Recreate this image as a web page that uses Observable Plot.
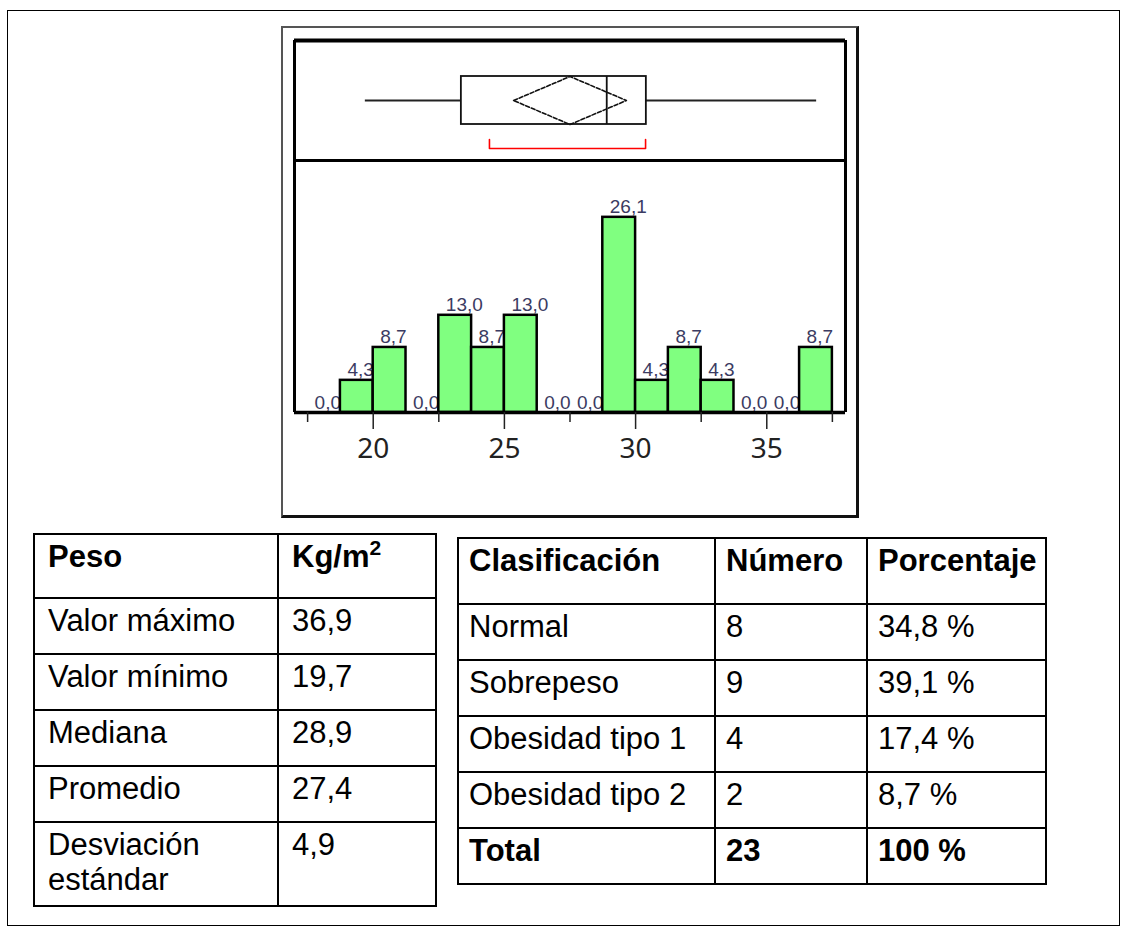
<!DOCTYPE html>
<html><head><meta charset="utf-8">
<script src="https://cdn.jsdelivr.net/npm/d3@7"></script>
<script src="https://cdn.jsdelivr.net/npm/@observablehq/plot@0.6"></script>
<style>
html,body{margin:0;padding:0;background:#fff;}
body{width:1127px;height:933px;position:relative;overflow:hidden;font-family:"Liberation Sans",Arial,sans-serif;}
#page{position:absolute;left:7px;top:10px;width:1113px;height:916px;border:1.5px solid #000;box-sizing:border-box;}
#frame{position:absolute;left:281px;top:26px;width:578px;height:492px;box-sizing:border-box;border-top:2px solid #555;border-left:2px solid #555;border-right:3px solid #111;border-bottom:3px solid #111;}
#box,#hist{position:absolute;left:282px;}
#box{top:27px;} #hist{top:160px;}
table{position:absolute;border-collapse:collapse;font-size:31px;line-height:35px;color:#000;table-layout:fixed;}
td{border:2px solid #000;vertical-align:top;padding:4px 8px 0 13px;box-sizing:border-box;overflow:hidden;}
#tright td{padding-left:10px;}
sup{font-size:0.68em;line-height:0;vertical-align:0.55em;}
</style></head>
<body>
<div id="page"></div>
<div id="frame"></div>
<div id="box"></div>
<div id="hist"></div>
<table id="tleft" style="left:33px;top:533px;width:402px;"></table>
<table id="tright" style="left:457px;top:537px;width:588px;"></table>
<script>
// ---- histogram data (percent per bin) ----
const binStarts = [17.5, 18.75, 20, 21.25, 22.5, 23.75, 25, 26.25, 27.5, 28.75, 30, 31.25, 32.5, 33.75, 35, 36.25];
const binPct    = [0.0, 4.3, 8.7, 0.0, 13.0, 8.7, 13.0, 0.0, 0.0, 26.1, 4.3, 8.7, 4.3, 0.0, 0.0, 8.7];
const binWidth = 1.25;
const majorTicks = [20, 25, 30, 35];
const minorTicks = [17.5, 22.5, 27.5, 32.5, 37.5];
const xDomain = [17, 38];
const yMax = 33.7;

// ---- outlier box plot summary ----
const boxMin = 19.7, boxQ1 = 23.36, boxMedian = 28.9, boxQ3 = 30.41, boxMax = 36.9;
const meanValue = 27.5, meanCI = [25.35, 29.65];
const shortestHalf = [24.43, 30.38];

// ---- tables ----
const leftHeader = ["Peso", "Kg/m<sup>2</sup>"];
const leftLabels = ["Valor máximo", "Valor mínimo", "Mediana", "Promedio", "Desviación estándar"];
const leftValues = ["36,9", "19,7", "28,9", "27,4", "4,9"];
const rightHeader = ["Clasificación", "Número", "Porcentaje"];
const classes = ["Normal", "Sobrepeso", "Obesidad tipo 1", "Obesidad tipo 2"];
const counts = [8, 9, 4, 2];
const percents = ["34,8 %", "39,1 %", "17,4 %", "8,7 %"];
const totalRow = ["Total", "23", "100 %"];

const fmt = v => v.toFixed(1).replace(".", ",");
const st = {background: "transparent", overflow: "visible"};

// box plot panel
const H = 0.4; // half box height (layout)
const whiskers = [{a: boxMin, b: boxQ1}, {a: boxQ3, b: boxMax}];
const diamond = [
  {x: meanCI[0], y: 0}, {x: meanValue, y: H}, {x: meanCI[1], y: 0}, {x: meanValue, y: -H}, {x: meanCI[0], y: 0}
];
const bracket = [
  {x: shortestHalf[0], y: -0.65}, {x: shortestHalf[0], y: -0.8}, {x: shortestHalf[1], y: -0.8}, {x: shortestHalf[1], y: -0.65}
];
const boxPlot = Plot.plot({
  width: 576, height: 133, marginTop: 13, marginBottom: 0, marginLeft: 12, marginRight: 13,
  x: {domain: xDomain, axis: null},
  y: {domain: [-1, 1], axis: null},
  style: st,
  marks: [
    Plot.ruleY(whiskers, {x1: "a", x2: "b", y: 0, stroke: "#222", strokeWidth: 2}),
    Plot.rect([{q1: boxQ1, q3: boxQ3}], {x1: "q1", x2: "q3", y1: -H, y2: H, fill: "none", stroke: "#111", strokeWidth: 1.8}),
    Plot.ruleX([boxMedian], {y1: -H, y2: H, stroke: "#111", strokeWidth: 1.8}),
    Plot.line(diamond, {x: "x", y: "y", stroke: "#111", strokeWidth: 1.6, strokeDasharray: "4,2"}),
    Plot.line(bracket, {x: "x", y: "y", stroke: "#ff0000", strokeWidth: 1.6}),
    Plot.ruleY([1], {stroke: "#000", strokeWidth: 4}),
    Plot.ruleY([-1], {stroke: "#000", strokeWidth: 3}),
    Plot.ruleX(xDomain, {stroke: "#000", strokeWidth: 3})
  ]
});
document.getElementById("box").append(boxPlot);

// histogram panel
const bins = binStarts.map((s, i) => ({x1: s, x2: s + binWidth, pct: binPct[i]}));
const hist = Plot.plot({
  width: 576, height: 357, marginTop: 0, marginBottom: 105, marginLeft: 12, marginRight: 13,
  x: {domain: xDomain, axis: null},
  y: {domain: [0, yMax], axis: null},
  style: st,
  marks: [
    Plot.text(bins, {x: "x1", y: "pct", text: d => fmt(d.pct), textAnchor: "start", lineAnchor: "bottom", dx: 7, dy: -4, fontSize: 19, fill: "#3b3b62", fontFamily: "Liberation Sans, Arial, sans-serif"}),
    Plot.rect(bins.filter(d => d.pct > 0), {x1: "x1", x2: "x2", y1: 0, y2: "pct", fill: "#80ff80", stroke: "#000", strokeWidth: 2.5}),
    Plot.ruleX(xDomain, {stroke: "#000", strokeWidth: 3}),
    Plot.ruleY([0], {stroke: "#000", strokeWidth: 3.5}),
    Plot.axisX(minorTicks, {tickSize: 10, tickFormat: () => "", strokeWidth: 1.5, stroke: "#222"}),
    Plot.axisX(majorTicks, {tickSize: 17, tickPadding: 9, tickFormat: d => String(d), fontSize: 28, strokeWidth: 1.5, stroke: "#222", fill: "#222"})
  ]
});
document.getElementById("hist").append(hist);

// tables
function row(cells, bold, height) {
  return `<tr style="height:${height}px">` + cells.map(c => `<td${bold ? ' style="font-weight:bold"' : ''}>${c}</td>`).join("") + "</tr>";
}
const leftHeights = [64, 56, 56, 56, 56, 84];
let lt = `<colgroup><col style="width:244px"><col style="width:158px"></colgroup>`;
lt += row(leftHeader, true, leftHeights[0]);
leftLabels.forEach((l, i) => { lt += row([l, leftValues[i]], false, leftHeights[i + 1]); });
document.getElementById("tleft").innerHTML = lt;

const rightHeights = [66, 56, 56, 56, 56, 56];
let rt = `<colgroup><col style="width:257px"><col style="width:152px"><col style="width:179px"></colgroup>`;
rt += row(rightHeader, true, rightHeights[0]);
classes.forEach((c, i) => { rt += row([c, String(counts[i]), percents[i]], false, rightHeights[i + 1]); });
rt += row(totalRow, true, rightHeights[5]);
document.getElementById("tright").innerHTML = rt;
</script>
</body></html>
